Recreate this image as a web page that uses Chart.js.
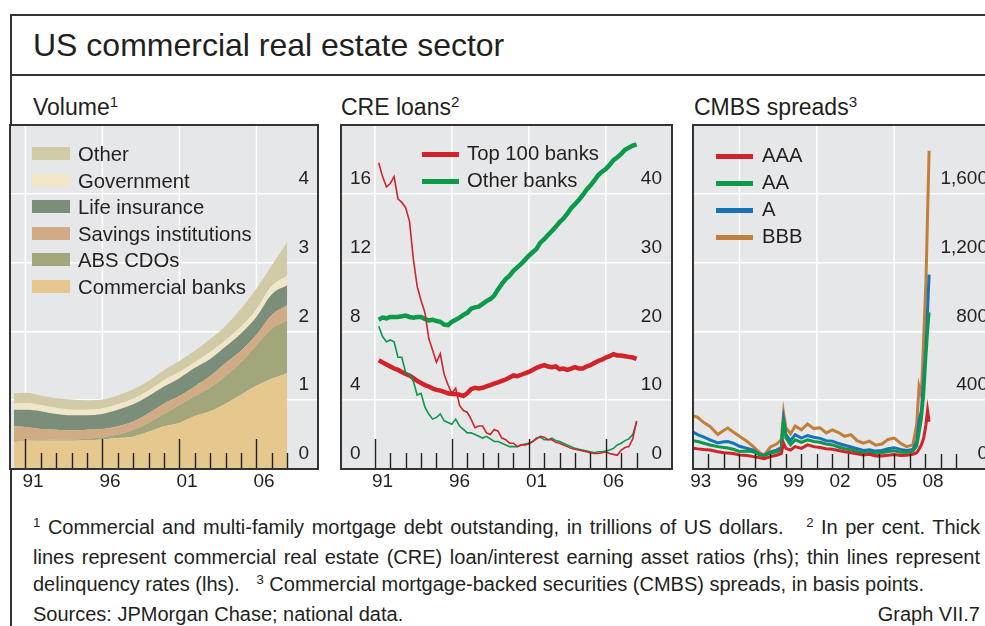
<!DOCTYPE html>
<html>
<head>
<meta charset="utf-8">
<script src="https://cdn.jsdelivr.net/npm/chart.js@4.4.0/dist/chart.umd.min.js"></script>
<style>
html, body { margin: 0; padding: 0; background: #fff; }
body { width: 985px; height: 626px; overflow: hidden; position: relative;
       font-family: "Liberation Sans", Arial, sans-serif; color: #231f20; }
.frame { position: absolute; left: 10px; top: 14px; width: 1100px; height: 700px;
         border-left: 2px solid #333; border-top: 2px solid #333; }
.rule { position: absolute; left: 10px; top: 74px; width: 1100px; height: 2px; background: #333; }
.title { position: absolute; left: 33px; top: 29px; font-size: 32px; line-height: 32px; white-space: nowrap; }
.sub { position: absolute; top: 96px; font-size: 23px; line-height: 23px; white-space: nowrap; }
.sub sup, .note sup { font-size: 0.66em; vertical-align: 0; position: relative; top: -0.55em; }
.panel { position: absolute; top: 123px; }
.legend-row { position: absolute; height: 20px; line-height: 20px; font-size: 20.3px; white-space: nowrap; }
.legend-row .box { position: absolute; left: 0; top: 3px; width: 38px; height: 13px; }
.legend-row .swatch { position: absolute; left: 0; width: 37px; height: 5px; }
.notes { position: absolute; left: 33px; top: 514px; font-size: 20px; line-height: 27.5px; }
.note { width: 947px; text-align: justify; text-align-last: justify; }
.note.last { text-align: left; text-align-last: left; }
.sources { position: absolute; left: 33px; top: 601px; width: 947px; font-size: 20px; line-height: 27.5px; }
.sources span { position: absolute; right: 0; top: 0; }
</style>
</head>
<body>
<div class="frame"></div>
<div class="rule"></div>
<div class="title">US commercial real estate sector</div>
<div class="sub" style="left:33px">Volume<sup>1</sup></div>
<div class="sub" style="left:341px">CRE loans<sup>2</sup></div>
<div class="sub" style="left:694px">CMBS spreads<sup>3</sup></div>

<div class="panel" id="p1"><canvas id="volume"></canvas></div>
<div class="panel" id="p2"><canvas id="loans"></canvas></div>
<div class="panel" id="p3"><canvas id="spreads"></canvas></div>
<div id="legends"></div>

<div class="notes">
  <div class="note"><sup>1</sup> Commercial and multi-family mortgage debt outstanding, in trillions of US dollars. &nbsp;&nbsp;<sup>2</sup> In per cent. Thick</div>
  <div class="note">lines represent commercial real estate (CRE) loan/interest earning asset ratios (rhs); thin lines represent</div>
  <div class="note last">delinquency rates (lhs). &nbsp;&nbsp;<sup>3</sup> Commercial mortgage-backed securities (CMBS) spreads, in basis points.</div>
</div>
<div class="sources">Sources: JPMorgan Chase; national data.<span>Graph VII.7</span></div>

<script>
const INK = '#231f20';
const PLOT_BG = '#e6e7e8';
const FONT = '"Liberation Sans", Arial, sans-serif';

// ---- Volume (trillions of USD), stacked, bottom layer first
const volumeYears = [1990.25, 1991, 1992, 1993, 1994, 1995, 1996, 1997, 1998, 1999,
                     2000, 2001, 2002, 2003, 2004, 2005, 2006, 2007, 2008];
const commercialBanks = [0.39, 0.41, 0.41, 0.41, 0.41, 0.42, 0.43, 0.45, 0.47, 0.54,
                         0.62, 0.67, 0.77, 0.84, 0.95, 1.08, 1.21, 1.31, 1.39];
const absCdos = [0.00, 0.00, 0.01, 0.02, 0.02, 0.02, 0.03, 0.05, 0.10, 0.13,
                 0.18, 0.26, 0.29, 0.34, 0.40, 0.47, 0.59, 0.73, 0.77];
const savingsInst = [0.23, 0.20, 0.16, 0.14, 0.13, 0.13, 0.12, 0.12, 0.12, 0.14,
                     0.15, 0.13, 0.14, 0.17, 0.19, 0.17, 0.15, 0.20, 0.22];
const lifeInsurance = [0.24, 0.25, 0.26, 0.23, 0.22, 0.21, 0.22, 0.24, 0.25, 0.25,
                       0.25, 0.26, 0.27, 0.25, 0.24, 0.25, 0.26, 0.30, 0.29];
const government = [0.09, 0.10, 0.09, 0.09, 0.08, 0.08, 0.08, 0.08, 0.08, 0.08,
                    0.09, 0.09, 0.08, 0.10, 0.09, 0.10, 0.11, 0.12, 0.14];
const otherHolders = [0.15, 0.15, 0.14, 0.14, 0.15, 0.14, 0.13, 0.13, 0.14, 0.14,
                      0.15, 0.16, 0.17, 0.19, 0.21, 0.26, 0.30, 0.30, 0.49];
const volumeLabels = ['Commercial banks', 'ABS CDOs', 'Savings institutions', 'Life insurance', 'Government', 'Other'];
const volumeColors = ['#e6c88f', '#a3a67b', '#d1ab84', '#7b8e79', '#f1e6c8', '#d0cba6'];
const volumeTickYears = [1991.5, 1996.5, 2001.5, 2006.5];

// ---- CRE loans, quarterly from 1991 Q2 to 2008 Q1
const loanStart = 1991.25;
const top100Delinq = [17.8, 17.0, 16.4, 16.6, 17.0, 15.7, 15.5, 15.2, 14.4, 12.2, 10.6, 9.8,
                      9.1, 7.6, 6.9, 6.2, 6.7, 5.5, 4.9, 4.4, 4.7, 3.7, 3.4, 3.3,
                      2.9, 2.4, 2.5, 2.5, 2.1, 2.0, 2.3, 2.2, 1.8, 1.7, 1.5, 1.5,
                      1.3, 1.4, 1.4, 1.45, 1.6, 1.75, 1.9, 1.85, 1.7, 1.7, 1.55, 1.5,
                      1.4, 1.3, 1.2, 1.15, 1.1, 1.05, 1.0, 0.95, 0.9, 0.9, 0.95, 1.0,
                      0.9, 0.85, 0.8, 1.1, 1.25, 1.3, 1.75, 2.8];
const otherDelinq = [8.3, 7.7, 7.4, 7.5, 7.4, 6.5, 6.5, 5.6, 5.5, 5.1, 4.3, 4.4,
                     3.6, 3.2, 2.9, 3.0, 3.2, 2.8, 2.7, 2.6, 2.9, 2.5, 2.3, 2.1,
                     2.1, 2.0, 1.9, 1.8, 1.9, 1.75, 1.6, 1.6, 1.5, 1.4, 1.3, 1.3,
                     1.3, 1.4, 1.45, 1.5, 1.6, 1.8, 1.85, 1.7, 1.7, 1.8, 1.65, 1.6,
                     1.5, 1.4, 1.3, 1.2, 1.15, 1.1, 1.05, 1.0, 0.95, 1.0, 1.0, 1.05,
                     1.1, 1.2, 1.4, 1.5, 1.65, 1.75, 2.0, 2.7];
const top100Ratio = [15.8, 15.5, 15.2, 14.9, 14.6, 14.4, 14.1, 13.8, 13.6, 13.2, 12.8, 12.5,
                     12.2, 12.0, 11.7, 11.5, 11.4, 11.2, 11.0, 10.9, 10.9, 10.8, 10.6, 11.0,
                     11.6, 11.8, 11.7, 11.8, 12.0, 12.2, 12.4, 12.6, 12.8, 13.0, 13.3, 13.6,
                     13.5, 13.7, 13.9, 14.1, 14.4, 14.7, 14.9, 15.1, 14.9, 14.8, 14.9, 14.5,
                     14.6, 14.4, 14.6, 14.8, 14.6, 14.6, 14.9, 15.1, 15.4, 15.7, 15.9, 16.2,
                     16.4, 16.7, 16.5, 16.5, 16.4, 16.3, 16.2, 16.0];
const otherRatio = [21.7, 22.0, 21.9, 22.1, 22.1, 22.1, 22.2, 22.3, 22.1, 22.0, 22.1, 22.1,
                    21.8, 21.6, 21.7, 21.5, 21.4, 21.0, 20.9, 21.4, 21.7, 22.0, 22.4, 22.7,
                    23.3, 23.5, 23.6, 24.0, 24.4, 24.7, 25.2, 26.1, 26.9, 27.6, 28.1, 28.8,
                    29.3, 29.8, 30.4, 31.0, 31.5, 32.0, 32.9, 33.4, 34.0, 34.6, 35.2, 35.9,
                    36.4, 37.1, 37.9, 38.5, 39.1, 39.8, 40.6, 41.2, 41.9, 42.7, 43.2, 43.6,
                    44.2, 44.9, 45.3, 45.8, 46.4, 46.7, 47.0, 47.2];
const loanLabels = ['Top 100 banks', 'Other banks'];
const loanColors = ['#d2232a', '#0a9a4a'];
const loanTickYears = [1991.5, 1996.5, 2001.5, 2006.5];

// ---- CMBS spreads (basis points)
const spreadDates = [1993.0, 1993.3, 1993.7, 1994.1, 1994.6, 1995.0, 1995.25, 1995.6, 1996.0, 1996.5,
                     1996.9, 1997.3, 1997.6, 1998.0, 1998.4, 1998.7, 1998.85, 1999.0, 1999.3, 1999.6,
                     2000.0, 2000.4, 2000.8, 2001.2, 2001.6, 2002.0, 2002.4, 2002.8, 2003.2, 2003.6,
                     2004.0, 2004.4, 2004.8, 2005.2, 2005.6, 2006.0, 2006.4, 2006.8, 2007.2, 2007.45,
                     2007.6, 2007.75, 2007.9, 2008.05, 2008.15, 2008.25];
const spreadAAA = [120, 117, 113, 110, 100, 95, 93, 90, 82, 78,
                   72, 65, 60, 72, 80, 90, 150, 120, 110, 130,
                   120, 140, 130, 125, 118, 115, 108, 100, 95, 88,
                   82, 85, 76, 75, 80, 84, 78, 80, 86, 95,
                   115, 140, 180, 260, 340, 275];
const spreadAA = [165, 160, 150, 140, 130, 125, 122, 115, 102, 105,
                  100, 82, 78, 92, 100, 110, 290, 180, 140, 170,
                  155, 170, 160, 155, 145, 140, 128, 118, 112, 102,
                  95, 98, 90, 94, 102, 106, 98, 96, 104, 135,
                  210, 290, 430, 660, 800, 910];
const spreadA = [215, 200, 185, 170, 152, 158, 160, 150, 132, 120,
                 110, 85, 80, 100, 110, 125, 285, 200, 165, 200,
                 180, 195, 185, 178, 165, 162, 148, 138, 128, 118,
                 108, 112, 104, 108, 118, 124, 114, 108, 114, 160,
                 280, 340, 520, 720, 920, 1130];
const spreadBBB = [310, 300, 270, 247, 200, 225, 238, 215, 190, 160,
                   130, 95, 80, 128, 145, 170, 325, 240, 205, 250,
                   228, 262, 235, 240, 210, 228, 212, 190, 200, 165,
                   150, 162, 138, 145, 172, 180, 150, 130, 140, 260,
                   480, 430, 760, 1100, 1480, 1850];
const spreadLabels = ['AAA', 'AA', 'A', 'BBB'];
const spreadColors = ['#d2232a', '#0a9a4a', '#1872b8', '#c27f3b'];
const spreadTickYears = [1993.5, 1996.5, 1999.5, 2002.5, 2005.5, 2008.5];

const toXY = (xs, ys) => ys.map((v, i) => ({ x: xs[i], y: v }));
const quarterly = (start, ys) => ys.map((v, i) => ({ x: start + i * 0.25, y: v }));

// grey plot, white year gridlines, inward ticks and the box around the plot
const panelDecor = {
  id: 'panelDecor',
  beforeDraw(chart) {
    const { ctx, chartArea: a } = chart;
    ctx.save();
    ctx.fillStyle = PLOT_BG;
    ctx.fillRect(a.left, a.top, a.right - a.left, a.bottom - a.top);
    ctx.restore();
  },
  beforeDatasetsDraw(chart, args, opts) {
    const { ctx, chartArea: a, scales: { x } } = chart;
    ctx.save();
    ctx.strokeStyle = '#ffffff';
    ctx.lineWidth = 1.5;
    opts.gridYears.forEach(yr => {
      const px = x.getPixelForValue(yr);
      ctx.beginPath();
      ctx.moveTo(px, a.top);
      ctx.lineTo(px, a.bottom);
      ctx.stroke();
    });
    ctx.restore();
  },
  afterDatasetsDraw(chart, args, opts) {
    const { ctx, chartArea: a, scales: { x } } = chart;
    ctx.save();
    ctx.strokeStyle = INK;
    ctx.lineWidth = 1.4;
    for (let yr = opts.tickFrom; yr <= opts.tickTo; yr++) {
      const px = Math.round(x.getPixelForValue(yr)) + 0.5;
      const len = opts.majorYears.includes(yr) ? 30 : opts.minorLen;
      ctx.beginPath();
      ctx.moveTo(px, a.bottom);
      ctx.lineTo(px, a.bottom - len);
      ctx.stroke();
    }
    ctx.strokeStyle = '#333';
    ctx.lineWidth = 2;
    ctx.strokeRect(a.left, a.top, a.right - a.left, a.bottom - a.top);
    ctx.restore();
  }
};

const BOX_TOP = 125, BOX_H = 344, PAD = 8, X_AXIS_H = 32;

function setupCanvas(id, panelId, boxLeft, boxW) {
  const panel = document.getElementById(panelId);
  panel.style.left = (boxLeft - PAD) + 'px';
  const cv = document.getElementById(id);
  cv.width = boxW + 2 * PAD;
  cv.height = BOX_H + 2 + X_AXIS_H;
  return cv;
}

function xAxis(min, max, tickYears) {
  return {
    type: 'linear', min, max,
    grid: { display: false, drawTicks: false },
    border: { display: false },
    afterBuildTicks: s => { s.ticks = tickYears.map(v => ({ value: v })); },
    afterFit: s => { s.height = X_AXIS_H; s.paddingLeft = 0; s.paddingRight = 0; },
    ticks: {
      autoSkip: false, maxRotation: 0, padding: 1, color: INK,
      font: { family: FONT, size: 19 },
      callback: v => String(Math.floor(v)).slice(2)
    }
  };
}

// labels sit inside the plot, just above their gridline
function yAxis(position, max, step, padding, showGrid, fmt) {
  return {
    position, min: 0, max,
    grid: { display: showGrid, color: '#ffffff', lineWidth: 1.5, drawTicks: false },
    border: { display: false },
    afterFit: s => { s.width = 0; s.paddingTop = 0; s.paddingBottom = 0; },
    ticks: {
      stepSize: step, mirror: true, padding, labelOffset: -15, color: INK,
      font: { family: FONT, size: 19 },
      callback: v => (v === max ? '' : fmt(v))
    }
  };
}

const baseOptions = {
  responsive: false,
  animation: false,
  layout: { padding: { left: PAD, right: PAD, top: 2, bottom: 0 } },
  elements: { point: { radius: 0 } },
  plugins: { legend: { display: false }, tooltip: { enabled: false } }
};

// Panel 1: volume
new Chart(setupCanvas('volume', 'p1', 10, 308), {
  type: 'line',
  data: {
    datasets: [commercialBanks, absCdos, savingsInst, lifeInsurance, government, otherHolders].map((vals, i) => ({
      label: volumeLabels[i],
      data: toXY(volumeYears, vals),
      backgroundColor: volumeColors[i],
      borderColor: volumeColors[i],
      borderWidth: 0,
      fill: i === 0 ? 'origin' : '-1',
      cubicInterpolationMode: 'monotone'
    }))
  },
  options: {
    ...baseOptions,
    scales: {
      x: xAxis(1990, 2010, volumeTickYears),
      y: { ...yAxis('right', 5, 1, -9, true, v => String(v)), stacked: true }
    },
    plugins: {
      ...baseOptions.plugins,
      panelDecor: { gridYears: [1991, 1996, 2001, 2006], tickFrom: 1991, tickTo: 2008,
                    majorYears: [1991, 1996, 2001, 2006], minorLen: 16 }
    }
  },
  plugins: [panelDecor]
});

// Panel 2: CRE loans
new Chart(setupCanvas('loans', 'p2', 341, 331), {
  type: 'line',
  data: {
    datasets: [
      { label: 'Top 100 banks delinquency', data: quarterly(loanStart, top100Delinq), borderColor: loanColors[0], borderWidth: 1.6, yAxisID: 'y' },
      { label: 'Other banks delinquency', data: quarterly(loanStart, otherDelinq), borderColor: loanColors[1], borderWidth: 1.6, yAxisID: 'y' },
      { label: 'Top 100 banks ratio', data: quarterly(loanStart, top100Ratio), borderColor: loanColors[0], borderWidth: 4.5, yAxisID: 'y1' },
      { label: 'Other banks ratio', data: quarterly(loanStart, otherRatio), borderColor: loanColors[1], borderWidth: 4.5, yAxisID: 'y1' }
    ]
  },
  options: {
    ...baseOptions,
    scales: {
      x: xAxis(1988.8, 2010.3, loanTickYears),
      y: yAxis('left', 20, 4, 9, true, v => String(v)),
      y1: yAxis('right', 50, 10, -10, false, v => String(v))
    },
    plugins: {
      ...baseOptions.plugins,
      panelDecor: { gridYears: [1991, 1996, 2001, 2006], tickFrom: 1991, tickTo: 2008,
                    majorYears: [1991, 1996, 2001, 2006], minorLen: 16 }
    }
  },
  plugins: [panelDecor]
});

// Panel 3: CMBS spreads
new Chart(setupCanvas('spreads', 'p3', 693, 305), {
  type: 'line',
  data: {
    datasets: [spreadAAA, spreadAA, spreadA, spreadBBB].map((vals, i) => ({
      label: spreadLabels[i],
      data: toXY(spreadDates, vals),
      borderColor: spreadColors[i],
      borderWidth: 3,
      fill: false
    }))
  },
  options: {
    ...baseOptions,
    scales: {
      x: xAxis(1993, 2012.7, spreadTickYears),
      y: yAxis('right', 2000, 400, -10, true, v => v.toLocaleString('en-US'))
    },
    plugins: {
      ...baseOptions.plugins,
      panelDecor: { gridYears: [1996, 2001, 2006], tickFrom: 1994, tickTo: 2010,
                    majorYears: [], minorLen: 15 }
    }
  },
  plugins: [panelDecor]
});

// legends as text next to the plots
const legends = document.getElementById('legends');
function addRow(left, centerY, color, label, kind, textLeft) {
  const row = document.createElement('div');
  row.className = 'legend-row';
  row.style.left = left + 'px';
  row.style.top = (centerY - 10) + 'px';
  const mark = document.createElement('span');
  mark.className = kind;
  mark.style.background = color;
  if (kind === 'swatch') mark.style.top = '9px';
  const text = document.createElement('span');
  text.textContent = label;
  text.style.position = 'absolute';
  text.style.left = (textLeft - left) + 'px';
  row.appendChild(mark);
  row.appendChild(text);
  legends.appendChild(row);
}
// volume legend lists the top layer first
volumeLabels.slice().reverse().forEach((lab, i) => {
  addRow(32, 154 + 26.6 * i, volumeColors[volumeLabels.length - 1 - i], lab, 'box', 78);
});
loanLabels.forEach((lab, i) => addRow(422, 153 + 27 * i, loanColors[i], lab, 'swatch', 467));
spreadLabels.forEach((lab, i) => addRow(716, 155 + 27 * i, spreadColors[i], lab, 'swatch', 762));
</script>
</body>
</html>
